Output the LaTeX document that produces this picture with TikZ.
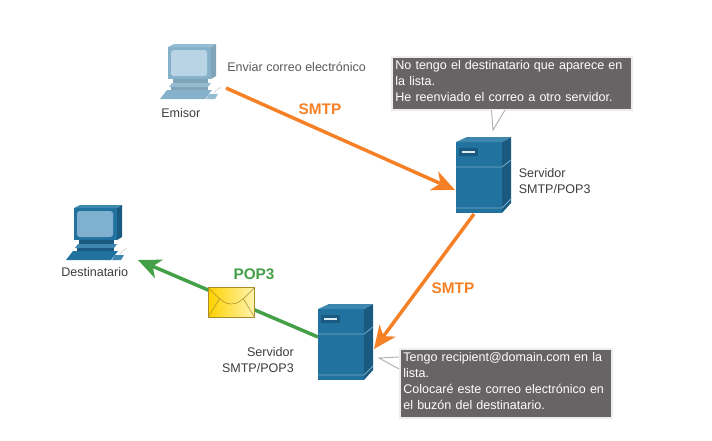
\documentclass[tikz,border=0pt]{standalone}
\usepackage{fontspec}
\setmainfont{Liberation Sans}
\usetikzlibrary{arrows.meta}
\definecolor{azul}{HTML}{21729F}
\definecolor{azulosc}{HTML}{1A5A80}
\definecolor{azulcla}{HTML}{3D86AE}
\definecolor{pantalla}{HTML}{7FB0CF}
\definecolor{naranja}{HTML}{F58025}
\definecolor{verde}{HTML}{43A047}
\definecolor{gris}{HTML}{686364}
\definecolor{texto}{HTML}{3C3C3C}
\definecolor{oro}{HTML}{FFD200}
\definecolor{orocla}{HTML}{FFF4B0}
\definecolor{pliegue}{HTML}{A88C28}
\tikzset{
  etiqueta/.style={font=\fontsize{9.4}{12}\selectfont,text=texto,inner sep=0pt,align=left},
  protocolo/.style={font=\fontsize{11.5}{14}\bfseries\selectfont,inner sep=0pt},
  caja/.style={fill=gris,draw=white!93!black,line width=1.5pt,text=white,anchor=north west,align=left,
    inner xsep=2.5pt,inner ysep=2.5pt,font=\fontsize{9.4}{12}\selectfont},
  cola/.style={fill=white,draw=black!30,line width=.7pt},
  enlace/.style={line width=2.6pt,-{Stealth[length=17pt,width=15pt,inset=5pt]}},
  pics/servidor/.style={code={
    \fill[azul] (0,0) rectangle (46,71);
    \fill[azulosc] (46,0) -- (55,-5) -- (55,61) -- (46,71) -- cycle;
    \fill[azulcla] (0,0) -- (11,-5) -- (55,-5) -- (46,0) -- cycle;
    \draw[azulcla!70!white,line width=.6pt] (0,25) -- (46,25) -- (55,18);
    \draw[azulcla!70!white,line width=.6pt] (0,66) -- (46,66) -- (55,57);
    \fill[azulosc] (3,6) rectangle (22,14);
    \fill[white!85!azul] (6,9) rectangle (19,11);
  }},
  pics/equipo/.style={code={
    \fill[azul!#1!white] (0,0) rectangle (43,32);
    \fill[azulosc!#1!white] (43,0) -- (48,-3) -- (48,29) -- (43,32) -- cycle;
    \fill[azulcla!#1!white] (0,0) -- (6,-3) -- (48,-3) -- (43,0) -- cycle;
    \fill[pantalla!#1!white,rounded corners=2pt] (3,3) rectangle (39,29);
    \fill[azulosc!#1!white] (5,32) rectangle (40,36);
    \fill[azulcla!#1!white] (1,40) -- (4,36) -- (43,36) -- (40,40) -- cycle;
    \fill[azulosc!#1!white] (3,40) rectangle (40,43);
    \fill[azul!#1!white] (-8,52) -- (-1,43) -- (44,43) -- (37,52) -- cycle;
    \fill[azulcla!#1!white] (38,52) -- (41,47) -- (50,47) -- (47,52) -- cycle;
    \draw[black!20,line width=.4pt] (46,47) .. controls (48,41) and (52,42) .. (53,40);
  }}
}
\begin{document}
\begin{tikzpicture}[x=0.75pt,y=-0.75pt]
\useasboundingbox (0,0) rectangle (712,440);

\coordinate (salida) at (226,88);
\coordinate (entrada) at (455,190);
\coordinate (reenvio) at (474,214);
\coordinate (llegada) at (374,349);
\coordinate (pop) at (318,337);
\coordinate (bajada) at (138,260);

\draw[enlace,naranja] (salida) -- (entrada);
\draw[enlace,naranja] (reenvio) -- (llegada);
\draw[enlace,verde] (pop) -- (bajada);

\pic at (168,47) {equipo=55};
\pic at (74,208) {equipo=100};
\pic at (456,142) {servidor};
\pic at (318,309) {servidor};

\node[etiqueta,anchor=west,text=black!65] (enviar) at (227,67) {Enviar correo electrónico};
\node[etiqueta,anchor=west] (emisor) at (161,113) {Emisor};
\node[etiqueta,anchor=west] (destinatario) at (61,272) {Destinatario};
\node[etiqueta,anchor=north west] (servidorsup) at (518.5,168) {Servidor\\SMTP/POP3};
\node[etiqueta,anchor=north east,align=right] (servidorinf) at (294,347) {Servidor\\SMTP/POP3};

\node[protocolo,text=naranja] (smtpsup) at (320,109) {SMTP};
\node[protocolo,text=naranja] (smtpinf) at (453,288) {SMTP};
\node[protocolo,text=verde] (pop3) at (254,274) {POP3};

\node[minimum width=34.5pt,minimum height=22pt,inner sep=0pt,draw=pliegue,line width=.6pt,
  shade,shading angle=50,left color=oro,middle color=oro,right color=orocla] (sobre) at (231.3,302.5) {};
\draw[pliegue,line width=.4pt] (sobre.north west) .. controls (222,302) and (226,304) .. (231,304) .. controls (237,304) and (241,302) .. (sobre.north east);
\draw[pliegue,line width=.4pt] (sobre.south west) -- (220,298);
\draw[pliegue,line width=.4pt] (sobre.south east) -- (243,298);

\node[caja,text width=175pt,text depth=28pt] (aviso) at (391,56) {No tengo el destinatario que aparece en la lista.\\He reenviado el correo a otro servidor.};
\node[caja,text width=154pt,text depth=40pt] (buzon) at (399,348) {Tengo recipient@domain.com en la lista.\\Colocaré este correo electrónico en el buzón del destinatario.};

\coordinate (puntasup) at (493,130);
\coordinate (puntainf) at (379,358);
\filldraw[cola] (491.5,110) -- (puntasup) -- (505,110);
\filldraw[cola] (399,357) -- (puntainf) -- (399,369);
\end{tikzpicture}
\end{document}
